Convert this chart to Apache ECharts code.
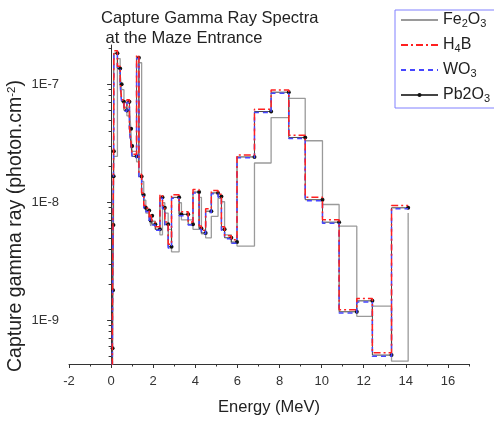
<!DOCTYPE html>
<html><head><meta charset="utf-8">
<script src="https://cdn.jsdelivr.net/npm/echarts@6/dist/echarts.min.js"></script>
<style>html,body{margin:0;padding:0;background:#fff}#c{width:494px;height:421px}</style>
</head><body><div id="c"></div>
<script>
// Energy bin edges (MeV)
const energy = [0.06, 0.07, 0.09, 0.11, 0.12, 0.13, 0.30, 0.43, 0.50, 0.61,
  0.75, 0.87, 0.95, 1.00, 1.21, 1.32, 1.45, 1.55, 1.65, 1.81,
  1.88, 1.95, 2.10, 2.32, 2.44, 2.55, 2.71, 2.87, 3.23, 3.34,
  3.66, 3.89, 4.18, 4.29, 4.49, 4.76, 5.08, 5.24, 5.39, 5.71,
  5.98, 6.81, 7.60, 8.44, 9.22, 10.04, 10.83, 11.67, 12.41, 13.32, 14.11];

const fe2o3 = [2.7e-10, 5.2e-10, 1.6e-9, 5.8e-9, 1.5e-8, 2.45e-8, 1.65e-7, 1.22e-7, 9.0e-8, 6.4e-8,
  5.4e-8, 6.4e-8, 3.8e-8, 2.7e-8, 2.2e-8, 1.52e-7, 1.5e-8, 1.04e-8, 8.1e-9, 7.7e-9,
  6.3e-9, 6.9e-9, 5.9e-9, 5.3e-9, 9.9e-9, 8.1e-9, 5.9e-9, 3.8e-9, 9.9e-9, 7.1e-9,
  7.1e-9, 5.9e-9, 1.1e-8, 5.4e-9, 5.0e-9, 7.6e-9, 1.08e-8, 1.01e-8, 5.3e-9, 4.5e-9,
  4.25e-9, 2.15e-8, 5.22e-8, 7.6e-8, 3.32e-8, 9.57e-9, 6.27e-9, 1.08e-9, 1.32e-9, 4.5e-10, 8.1e-9];

const h4b = [3.1e-10, 6.0e-10, 1.9e-9, 6.7e-9, 1.73e-8, 2.8e-8, 1.92e-7, 1.42e-7, 1.05e-7, 7.4e-8,
  6.3e-8, 7.4e-8, 4.4e-8, 3.15e-8, 2.55e-8, 1.76e-7, 1.73e-8, 1.2e-8, 9.4e-9, 8.9e-9,
  7.3e-9, 8.1e-9, 6.8e-9, 6.2e-9, 1.16e-8, 9.4e-9, 6.8e-9, 4.4e-9, 1.16e-8, 8.3e-9,
  8.3e-9, 6.8e-9, 1.28e-8, 6.3e-9, 5.8e-9, 8.8e-9, 1.26e-8, 1.17e-8, 6.2e-9, 5.2e-9,
  4.8e-9, 2.52e-8, 6.15e-8, 8.95e-8, 3.7e-8, 1.1e-8, 7.1e-9, 1.23e-9, 1.53e-9, 5.3e-10, 9.4e-9];

const wo3 = [2.9e-10, 5.7e-10, 1.75e-9, 6.3e-9, 1.63e-8, 2.65e-8, 1.8e-7, 1.33e-7, 9.8e-8, 7.0e-8,
  5.9e-8, 7.0e-8, 4.1e-8, 2.95e-8, 2.4e-8, 1.65e-7, 1.62e-8, 1.13e-8, 8.8e-9, 8.3e-9,
  6.9e-9, 7.5e-9, 6.4e-9, 5.8e-9, 1.08e-8, 8.8e-9, 6.4e-9, 4.1e-9, 1.08e-8, 7.7e-9,
  7.7e-9, 6.4e-9, 1.2e-8, 5.9e-9, 5.4e-9, 8.2e-9, 1.18e-8, 1.1e-8, 5.8e-9, 4.9e-9,
  4.5e-9, 2.38e-8, 5.75e-8, 8.4e-8, 3.47e-8, 1.03e-8, 6.65e-9, 1.15e-9, 1.43e-9, 4.95e-10, 8.8e-9];

const pb2o3 = [3e-10, 5.8e-10, 1.8e-9, 6.4e-9, 1.66e-8, 2.7e-8, 1.83e-7, 1.36e-7, 1.0e-7, 7.1e-8,
  6.0e-8, 7.1e-8, 4.2e-8, 3.0e-8, 2.45e-8, 1.68e-7, 1.65e-8, 1.15e-8, 9.0e-9, 8.5e-9,
  7.0e-9, 7.7e-9, 6.5e-9, 5.9e-9, 1.1e-8, 9.0e-9, 6.5e-9, 4.2e-9, 1.1e-8, 7.9e-9,
  7.9e-9, 6.5e-9, 1.22e-8, 6.0e-9, 5.5e-9, 8.4e-9, 1.2e-8, 1.12e-8, 5.9e-9, 5.0e-9,
  4.6e-9, 2.42e-8, 5.87e-8, 8.56e-8, 3.54e-8, 1.05e-8, 6.78e-9, 1.18e-9, 1.46e-9, 5.07e-10, 8.97e-9];

const seriesNames = ['Fe2O3', 'H4B', 'WO3', 'Pb2O3'];
const xMajorTicks = [-2, 0, 2, 4, 6, 8, 10, 12, 14, 16];
const xMinorTicks = [-1, 1, 3, 5, 7, 9, 11, 13, 15, 17];
const yMajorTicks = [1e-9, 1e-8, 1e-7];
const yTickLabels = ['1E-9', '1E-8', '1E-7'];
const yMinorTicks = [5e-10, 6e-10, 7e-10, 8e-10, 9e-10,
  2e-9, 3e-9, 4e-9, 5e-9, 6e-9, 7e-9, 8e-9, 9e-9,
  2e-8, 3e-8, 4e-8, 5e-8, 6e-8, 7e-8, 8e-8, 9e-8, 2e-7];

const pairs = arr => energy.map((e, i) => [e, arr[i]]);
const FONT = 'Liberation Sans, Arial, sans-serif';
const legendLabels = {
  'Fe2O3': '{n|Fe}{s|2}{n|O}{s|3}',
  'H4B': '{n|H}{s|4}{n|B}',
  'WO3': '{n|WO}{s|3}',
  'Pb2O3': '{n|Pb2O}{s|3}'
};
const YMIN = 4.26e-10, YMAX = 2.15e-7;

const chart = echarts.init(document.getElementById('c'), null, {renderer: 'canvas'});
chart.setOption({
  animation: false,
  backgroundColor: '#fff',
  textStyle: {fontFamily: FONT},
  title: {
    text: 'Capture Gamma Ray Spectra\n at the Maze Entrance',
    left: 96, top: 3,
    textStyle: {fontSize: 16.5, fontWeight: 'normal', color: '#222', lineHeight: 20, fontFamily: FONT}
  },
  graphic: [{
    type: 'text',
    x: 16, y: 226, rotation: Math.PI / 2,
    style: {
      text: '{a|Capture gamma ray (photon.cm}{b|-2}{a|)}',
      align: 'center', verticalAlign: 'middle',
      fill: '#222', font: '19.5px ' + FONT,
      rich: {
        a: {fontSize: 19.5, fill: '#222', fontFamily: FONT},
        b: {fontSize: 11.5, fill: '#222', fontFamily: FONT, padding: [0, 0, 9, 0]}
      }
    }
  }],
  legend: {
    data: [
      {name: 'Fe2O3', itemStyle: {opacity: 0}},
      {name: 'H4B', itemStyle: {opacity: 0}},
      {name: 'WO3', itemStyle: {opacity: 0}},
      {name: 'Pb2O3'}
    ],
    orient: 'vertical',
    left: 395, top: 10,
    itemWidth: 37, itemHeight: 5, itemGap: 8,
    padding: [2, 40, 4, 5],
    borderColor: '#8080ff', borderWidth: 1,
    formatter: name => legendLabels[name],
    textStyle: {
      color: '#222', fontFamily: FONT, fontSize: 16,
      rich: {
        n: {fontSize: 16, color: '#222', fontFamily: FONT},
        s: {fontSize: 11, color: '#222', fontFamily: FONT, padding: [7, 0, 0, 0]}
      }
    }
  },
  grid: {left: 69, right: 25, top: 45, bottom: 56, containLabel: false},
  xAxis: [{
    type: 'value', min: -2, max: 17,
    name: 'Energy (MeV)', nameLocation: 'middle', nameGap: 35,
    nameTextStyle: {fontSize: 16.5, color: '#222', fontFamily: FONT},
    axisLine: {lineStyle: {color: '#333', width: 1}},
    axisTick: {customValues: xMajorTicks, length: 4, lineStyle: {color: '#333'}},
    axisLabel: {customValues: xMajorTicks, fontSize: 13, color: '#333', margin: 11, fontFamily: FONT},
    splitLine: {show: false}
  }, {
    type: 'value', min: -2, max: 17, position: 'bottom',
    axisLine: {show: false},
    axisTick: {customValues: xMinorTicks, length: 2.5, lineStyle: {color: '#333'}},
    axisLabel: {show: false},
    splitLine: {show: false}
  }],
  yAxis: [{
    type: 'log', min: YMIN, max: YMAX, logBase: 10,
    axisLine: {show: true, lineStyle: {color: '#333', width: 1}},
    axisTick: {customValues: yMajorTicks, length: 4, lineStyle: {color: '#333'}},
    axisLabel: {
      customValues: yMajorTicks, fontSize: 13, color: '#333', margin: 10, fontFamily: FONT,
      formatter: v => {
        for (let i = 0; i < yMajorTicks.length; i++) {
          if (Math.abs(Math.log10(v) - Math.log10(yMajorTicks[i])) < 1e-6) return yTickLabels[i];
        }
        return '';
      }
    },
    splitLine: {show: false}
  }, {
    type: 'log', min: YMIN, max: YMAX, logBase: 10, position: 'left',
    axisLine: {show: false},
    axisTick: {customValues: yMinorTicks, length: 2.5, lineStyle: {color: '#333'}},
    axisLabel: {show: false},
    splitLine: {show: false}
  }],
  series: [{
    name: 'Fe2O3', type: 'line', step: 'end', data: pairs(fe2o3),
    symbol: 'none', z: 1,
    lineStyle: {color: '#9a9a9a', width: 1.3},
    itemStyle: {color: '#9a9a9a'}
  }, {
    name: 'Pb2O3', type: 'line', step: 'start', data: pairs(pb2o3),
    symbol: 'circle', symbolSize: 4, z: 2,
    lineStyle: {color: '#444', width: 1},
    itemStyle: {color: '#111'}
  }, {
    name: 'WO3', type: 'line', step: 'start', data: pairs(wo3),
    symbol: 'none', z: 3,
    lineStyle: {color: '#4646ff', width: 1.5, type: [5, 4]},
    itemStyle: {color: '#4646ff'}
  }, {
    name: 'H4B', type: 'line', step: 'start', data: pairs(h4b),
    symbol: 'none', z: 4,
    lineStyle: {color: '#ff2020', width: 1.5, type: [7, 3, 2, 3]},
    itemStyle: {color: '#ff2020'}
  }]
});
</script>
</body></html>
